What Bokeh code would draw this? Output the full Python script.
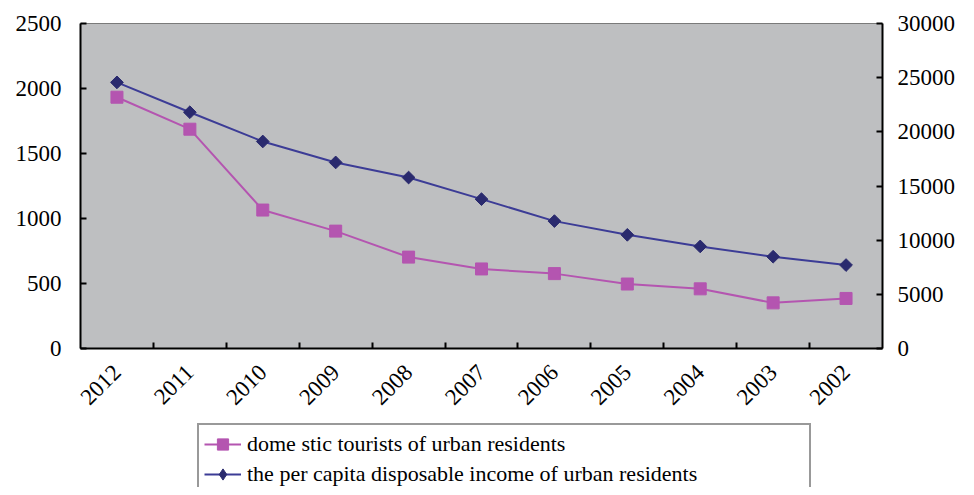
import math
import numpy as np
from bokeh.plotting import figure
from bokeh.layouts import column
from bokeh.models import Range1d, LinearAxis, FixedTicker, Legend, LegendItem
from bokeh.embed import file_html
from bokeh.resources import INLINE

years = ["2012", "2011", "2010", "2009", "2008", "2007", "2006", "2005", "2004", "2003", "2002"]
tourists = [1933, 1687, 1065, 903, 703, 612, 576, 496, 459, 351, 385]
income = [24565, 21810, 19109, 17175, 15781, 13786, 11759, 10493, 9422, 8472, 7703]
left_ticks = [0, 500, 1000, 1500, 2000, 2500]
right_ticks = [0, 5000, 10000, 15000, 20000, 25000, 30000]
labels = ["dome stic tourists of urban residents",
          "the per capita disposable income of urban residents"]

PINK = "#B455B0"
BLUE_LINE = "#3C3C96"
BLUE_MARK = "#2A2A6E"
FONT = "Liberation Serif"

n = len(years)
xs = [i + 0.5 for i in range(n)]

p = figure(width=958, height=420, output_backend="svg", toolbar_location=None,
           x_range=Range1d(0, n), y_range=Range1d(0, 2500),
           min_border_left=80, min_border_right=72, min_border_top=23, min_border_bottom=72,
           background_fill_color="#BEBFC1", border_fill_color="white")
p.extra_y_ranges = {"income": Range1d(0, 30000)}
p.grid.visible = False
p.outline_line_color = "#7A7A7A"
p.outline_line_width = 1

# x axis
xa = p.xaxis[0]
xa.ticker = FixedTicker(ticks=xs, minor_ticks=list(range(1, n)))
xa.major_label_overrides = {x: y for x, y in zip(xs, years)}
xa.major_label_orientation = math.pi / 4
xa.major_tick_in = 0
xa.major_tick_out = 0
xa.minor_tick_in = 6
xa.minor_tick_out = 0
xa.minor_tick_line_color = "black"
xa.minor_tick_line_width = 2
xa.major_label_standoff = 20

# left axis
ya = p.yaxis[0]
ya.ticker = FixedTicker(ticks=left_ticks)
ya.major_tick_in = 6
ya.major_tick_out = 0
ya.minor_tick_in = 0
ya.minor_tick_out = 0
ya.major_label_standoff = 19

# right axis
ra = LinearAxis(y_range_name="income", ticker=FixedTicker(ticks=right_ticks))
ra.major_tick_in = 6
ra.major_tick_out = 0
ra.minor_tick_in = 0
ra.minor_tick_out = 0
ra.major_label_standoff = 15
p.add_layout(ra, "right")

for ax in (xa, ya, ra):
    ax.axis_line_color = "black"
    ax.axis_line_width = 2
    ax.major_tick_line_color = "black"
    ax.major_tick_line_width = 2
    ax.major_label_text_font = FONT
    ax.major_label_text_font_size = "23px"
    ax.major_label_text_color = "black"

p.line(xs, tourists, line_color=PINK, line_width=2)
p.scatter(xs, tourists, marker="square", size=12, fill_color=PINK, line_color=PINK)
p.line(xs, income, y_range_name="income", line_color=BLUE_LINE, line_width=2)
p.scatter(xs, income, y_range_name="income", marker="square", angle=math.pi / 4, size=9,
          fill_color=BLUE_MARK, line_color=BLUE_MARK)

# legend strip below the chart (legend keys only, no data drawn)
lf = figure(width=958, height=67, output_backend="svg", toolbar_location=None,
            x_range=Range1d(0, 1), y_range=Range1d(0, 1),
            x_axis_location=None, y_axis_location=None,
            min_border_left=0, min_border_right=0, min_border_top=0, min_border_bottom=0,
            background_fill_color="white", border_fill_color="white", outline_line_color=None)
lf.grid.visible = False
nan = np.array([np.nan])
k1 = lf.line(nan, nan, line_color=PINK, line_width=2)
m1 = lf.scatter(nan, nan, marker="square", size=10, fill_color=PINK, line_color=PINK)
k2 = lf.line(nan, nan, line_color=BLUE_LINE, line_width=2)
m2 = lf.scatter(nan, nan, marker="diamond", size=13,
                fill_color=BLUE_MARK, line_color=BLUE_MARK)

legend = Legend(items=[
    LegendItem(label=labels[0], renderers=[k1, m1]),
    LegendItem(label=labels[1], renderers=[k2, m2]),
], location=(117, -8), orientation="vertical",
    label_text_font=FONT, label_text_font_size="22px", label_text_color="black",
    glyph_width=37, glyph_height=28, label_height=28, label_standoff=6,
    padding=5, spacing=2, margin=0, label_width=557,
    border_line_color="#333333", border_line_width=2,
    background_fill_color="white", background_fill_alpha=1.0)
lf.add_layout(legend)

open("out.html", "w").write(file_html(column(p, lf, spacing=0), INLINE))
